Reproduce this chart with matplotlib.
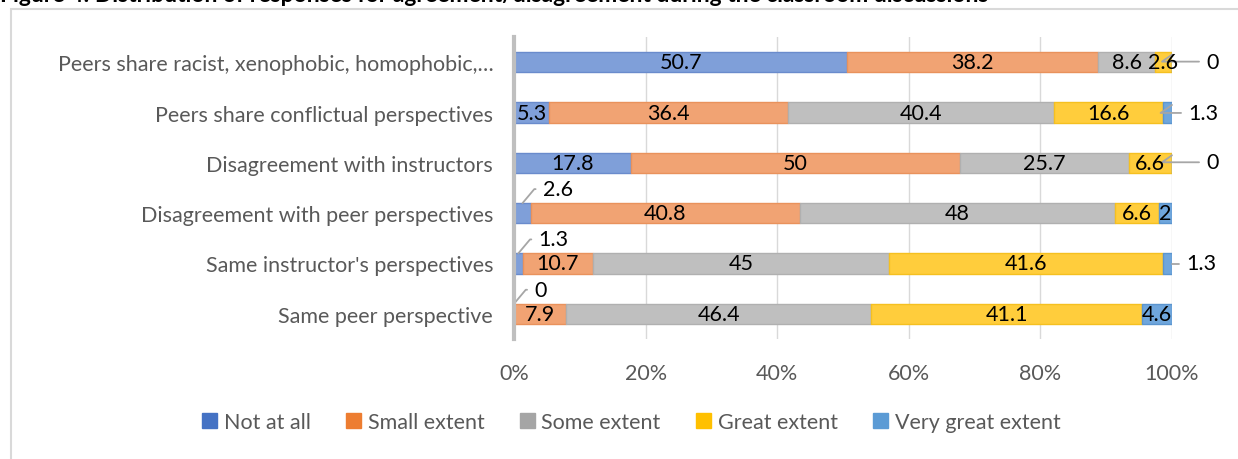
import matplotlib
matplotlib.use("Agg")
import matplotlib.pyplot as plt
from matplotlib.patches import Rectangle
import numpy as np

plt.rcParams['font.family'] = ['Lato', 'DejaVu Sans']

categories = [
    "Peers share racist, xenophobic, homophobic,\u2026",
    "Peers share conflictual perspectives",
    "Disagreement with instructors",
    "Disagreement with peer perspectives",
    "Same instructor's perspectives",
    "Same peer perspective",
]
series_names = ["Not at all", "Small extent", "Some extent", "Great extent", "Very great extent"]
not_at_all = [50.7, 5.3, 17.8, 2.6, 1.3, 0]
small_extent = [38.2, 36.4, 50, 40.8, 10.7, 7.9]
some_extent = [8.6, 40.4, 25.7, 48, 45, 46.4]
great_extent = [2.6, 16.6, 6.6, 6.6, 41.6, 41.1]
very_great_extent = [0, 1.3, 0, 2, 1.3, 4.6]
xticks = [0, 20, 40, 60, 80, 100]
xtick_labels = ["0%", "20%", "40%", "60%", "80%", "100%"]
title = "Figure 4: Distribution of responses for agreement/disagreement during the classroom discussions"

fills = ["#7f9fd9", "#f1a373", "#bfbfbf", "#ffcd3c", "#6fa6dc"]
edges = ["#6a8bcc", "#e9925c", "#b0b0b0", "#f5c020", "#5b95cf"]
legend_colors = ["#4472c4", "#ed7d31", "#a5a5a5", "#ffc000", "#5b9bd5"]

data = np.array([not_at_all, small_extent, some_extent, great_extent, very_great_extent])
totals = data.sum(axis=0)
pct = data / totals * 100

# (series index, row, side) for labels drawn outside with leader lines
callouts = [(4, 0, 'right'), (4, 1, 'right'), (4, 2, 'right'), (0, 3, 'left'),
            (0, 4, 'left'), (4, 4, 'right_mid'), (0, 5, 'left')]
callout_keys = {(i, j) for i, j, _ in callouts}

fig = plt.figure(figsize=(12.38, 4.60), dpi=100)
ax = fig.add_axes([514/1238, 1-340/460, (1172-514)/1238, (340-38)/460])

y = np.arange(len(categories))
left = np.zeros(len(categories))
fs = 15.5
for i, name in enumerate(series_names):
    ax.barh(y, pct[i], left=left, height=0.4, color=fills[i], edgecolor=edges[i],
            linewidth=1, label=name, zorder=3)
    for j in range(len(categories)):
        if (i, j) in callout_keys:
            continue
        v = data[i, j]
        w = pct[i, j]
        ax.text(left[j] + w/2, y[j], f"{v:g}", ha='center', va='center',
                fontsize=fs, color='black', zorder=5)
    left = left + pct[i]


def callout(i, j, side):
    v = data[i, j]
    start = pct[:i, j].sum()
    w = pct[i, j]
    lc = '#a6a6a6'
    if side == 'right':
        xy = (start + w, y[j] - 0.15)
        off = (34, -7) if v == 0 else (16, -8)
        angB = 35
    elif side == 'right_mid':
        xy = (start + w, y[j])
        off = (14, 0)
        angB = 35
    else:
        xy = (start + w/2 if w > 0 else 0.0, y[j] - 0.2)
        off = (20, 14)
        angB = -130
    ax.annotate(f"{v:g}", xy=xy, xytext=off, textcoords='offset pixels',
                ha='left', va='center', fontsize=fs, color='black',
                annotation_clip=False,
                arrowprops=dict(arrowstyle='-', color=lc, lw=1.3,
                                shrinkA=3, shrinkB=0, relpos=(0, 0.5),
                                connectionstyle=f"angle,angleA=180,angleB={angB},rad=0"))


for i, j, side in callouts:
    callout(i, j, side)

ax.set_xlim(0, 100)
ax.set_ylim(len(categories) - 0.5, -0.5)
ax.set_yticks(y)
ax.set_yticklabels(categories, fontsize=fs, color='#595959')
ax.set_xticks(xticks)
ax.set_xticklabels(xtick_labels, fontsize=fs, color='#595959')
ax.tick_params(axis='both', length=0)
ax.tick_params(axis='y', pad=15)
ax.tick_params(axis='x', pad=17)
ax.grid(axis='x', color='#d9d9d9', linewidth=1, zorder=0)
ax.set_axisbelow(True)
for s in ['top', 'right', 'bottom']:
    ax.spines[s].set_visible(False)
ax.spines['left'].set_color('#bfbfbf')
ax.spines['left'].set_linewidth(3)
ax.spines['left'].set_zorder(4)

handles = [Rectangle((0, 0), 1, 1, color=c) for c in legend_colors]
fig.legend(handles, series_names, loc='center', bbox_to_anchor=(0.51, 1-423/460),
           ncol=5, frameon=False, fontsize=fs, handlelength=0.7, handleheight=0.7,
           handletextpad=0.3, columnspacing=1.65, labelcolor='#595959')

fig.patches.append(Rectangle((11/1238, -0.1), 1.0, 1.1 - 10/460, transform=fig.transFigure,
                             fill=False, edgecolor='#d9d9d9', linewidth=1.5))
fig.text(0.0, 1 - 1.5/460, title, fontsize=16.5, fontweight='bold', color='black',
         ha='left', va='baseline')

fig.savefig("out.png", dpi=100)
